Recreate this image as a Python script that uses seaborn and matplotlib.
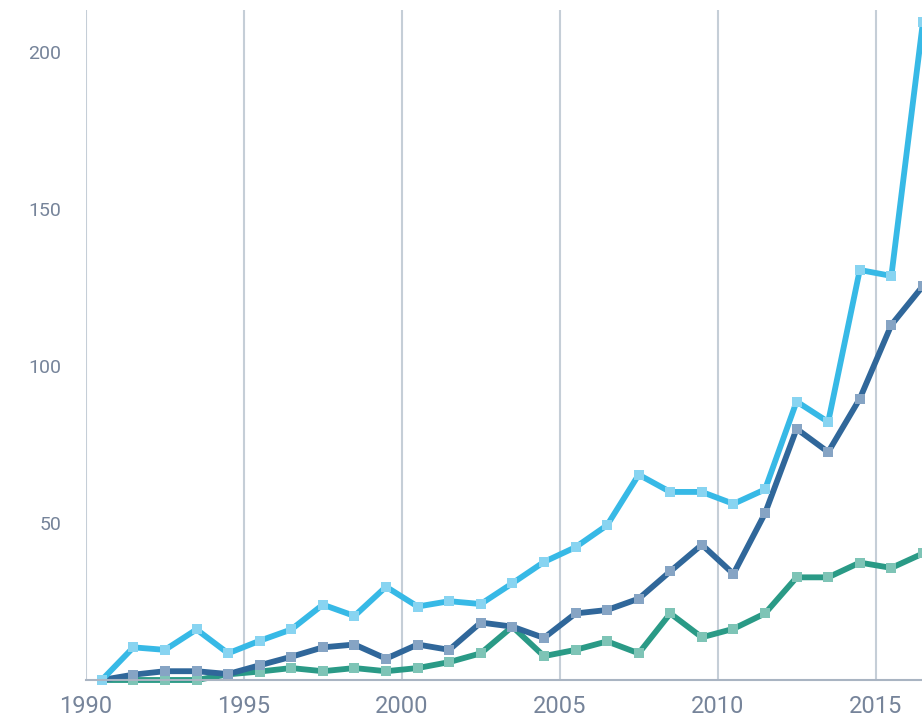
import numpy as np
import pandas as pd
import matplotlib
matplotlib.use("Agg")
import matplotlib.pyplot as plt
import seaborn as sns
from matplotlib import font_manager

years = list(range(1990, 2017))

light_blue = [0, 10.4, 9.6, 16.1, 8.5, 12.5, 16.1, 24.0, 20.4, 29.7,
              23.4, 25.1, 24.2, 30.8, 37.6, 42.3, 49.3, 65.4, 59.9, 59.9,
              56.1, 60.7, 88.7, 82.2, 130.6, 128.7, 209.6]
dark_blue = [0, 1.7, 2.8, 2.8, 1.9, 4.7, 7.4, 10.4, 11.3, 6.8,
             11.3, 9.6, 18.3, 17.0, 13.4, 21.2, 22.3, 25.9, 34.6, 43.1,
             33.8, 53.1, 80.0, 72.6, 89.6, 113.1, 125.5]
green = [0, 0, 0, 0, 1.8, 2.7, 3.8, 2.8, 3.8, 2.8,
         3.8, 5.7, 8.5, 17.0, 7.6, 9.6, 12.3, 8.5, 21.2, 13.6,
         16.3, 21.2, 32.7, 32.7, 37.4, 35.7, 40.3]

x_ticks = [1990, 1995, 2000, 2005, 2010, 2015]
y_ticks = [50, 100, 150, 200]

sns.set_style("white")
installed = {f.name for f in font_manager.fontManager.ttflist}
fams = [f for f in ["Liberation Sans Narrow", "Roboto", "DejaVu Sans"] if f in installed]
plt.rcParams["font.family"] = fams

df = pd.DataFrame({"year": np.array(years) + 0.5,
                   "light": light_blue, "dark": dark_blue, "green": green})

fig = plt.figure(figsize=(9.22, 7.19), dpi=100)
ax = fig.add_axes([86 / 922, 39 / 719, 836 / 922, 670 / 719])

styles = [("green", "#2a9a86", "#7ec4b6"),
          ("dark", "#30679a", "#86a4c4"),
          ("light", "#37b9e6", "#88d4f1")]
for col, lc, mc in styles:
    sns.lineplot(data=df, x="year", y=col, ax=ax, color=lc, linewidth=4.2,
                 marker="s", markersize=7, markerfacecolor=mc,
                 markeredgecolor=mc, markeredgewidth=0, clip_on=False)

ax.set_xlim(1990, 2016.47)
ax.set_ylim(0, 213.4)
ax.set_xticks(x_ticks)
ax.set_yticks(y_ticks)
ax.set_xlabel("")
ax.set_ylabel("")
ax.grid(axis="x", color="#c5ced7", linewidth=1.5)
ax.set_axisbelow(True)
for s in ["top", "right", "left"]:
    ax.spines[s].set_visible(False)
ax.spines["bottom"].set_color("#a9b4c2")
ax.spines["bottom"].set_linewidth(1.5)
ax.tick_params(axis="both", length=0, colors="#76849a")
ax.tick_params(axis="x", labelsize=17, pad=11)
ax.tick_params(axis="y", labelsize=14, pad=18)

fig.savefig("out.png", dpi=100)
